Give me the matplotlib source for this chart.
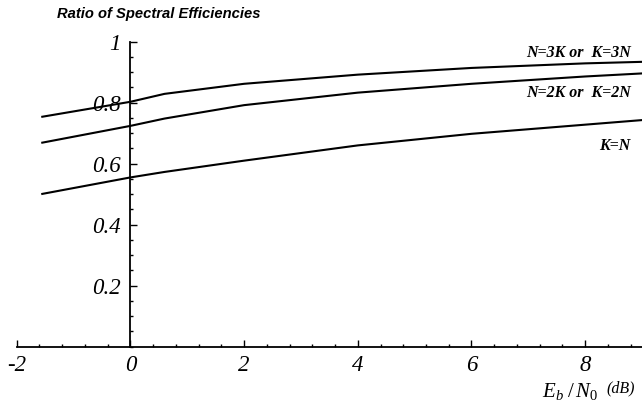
import matplotlib
matplotlib.use('Agg')
import matplotlib.pyplot as plt
from matplotlib.ticker import MultipleLocator, FixedLocator

# Data (Eb/N0 in dB vs. ratio)
eb_n0 = [-1.55, 0, 0.6, 2, 4, 6, 8, 9]
ratio_3k = [0.754, 0.803, 0.829, 0.862, 0.892, 0.914, 0.929, 0.934]
ratio_2k = [0.669, 0.724, 0.748, 0.792, 0.833, 0.862, 0.886, 0.896]
ratio_kn = [0.501, 0.555, 0.573, 0.610, 0.660, 0.698, 0.728, 0.743]

x_ticks = [-2, 0, 2, 4, 6, 8]
y_ticks = [0.2, 0.4, 0.6, 0.8, 1.0]
y_tick_labels = ['0.2', '0.4', '0.6', '0.8', '1']

plt.rcParams['mathtext.fontset'] = 'custom'
plt.rcParams['mathtext.it'] = 'Liberation Serif:italic'
plt.rcParams['mathtext.rm'] = 'Liberation Serif'

fig = plt.figure(figsize=(6.42, 4.03), dpi=100)
ax = fig.add_axes([0.026, 0.1397, 0.974, 0.7568])

for vals in (ratio_3k, ratio_2k, ratio_kn):
    ax.plot(eb_n0, vals, color='black', lw=1.5, solid_joinstyle='round')

ax.set_xlim(-2, 9)
ax.set_ylim(0, 1.0)

# Mathematica-style axes crossing at the origin
ax.spines['left'].set_position(('data', 0))
ax.spines['right'].set_visible(False)
ax.spines['top'].set_visible(False)
for s in ('left', 'bottom'):
    ax.spines[s].set_linewidth(1.3)

ax.xaxis.set_major_locator(FixedLocator(x_ticks))
ax.xaxis.set_minor_locator(MultipleLocator(0.4))
ax.yaxis.set_major_locator(FixedLocator(y_ticks))
ax.yaxis.set_minor_locator(MultipleLocator(0.05))
ax.set_yticklabels(y_tick_labels)
ax.set_xticklabels([str(t) for t in x_ticks])

ax.tick_params(which='both', direction='in', width=1.0)
ax.tick_params(which='major', length=5)
ax.tick_params(which='minor', length=2.5)
ax.tick_params(axis='x', pad=6)
ax.tick_params(axis='y', pad=7)

for lab in ax.get_xticklabels() + ax.get_yticklabels():
    lab.set_fontfamily('Liberation Serif')
    lab.set_fontstyle('italic')
    lab.set_fontsize(16.5)

# curve labels
lab_font = dict(family='Liberation Serif', style='italic', weight='bold',
                size=11.5, ha='right', va='center')
fig.text(0.982, 1 - 53 / 403, 'N=3K or  K=3N', **lab_font)
fig.text(0.982, 1 - 93 / 403, 'N=2K or  K=2N', **lab_font)
fig.text(0.982, 1 - 146 / 403, 'K=N', **lab_font)

# title
fig.text(57 / 642, 1 - 14 / 403, 'Ratio of Spectral Efficiencies',
         family='Liberation Sans', style='italic', weight='bold', size=10.6,
         ha='left', va='center')

# x axis label
fig.text(542 / 642, 1 - 391 / 403, r'$E_{b\,}\,/\,N_{0\,}$', size=15,
         ha='left', va='center')
fig.text(0.989, 1 - 388 / 403, '(dB)', family='Liberation Serif',
         style='italic', size=11.5, ha='right', va='center')

fig.savefig('out.png', dpi=100)
